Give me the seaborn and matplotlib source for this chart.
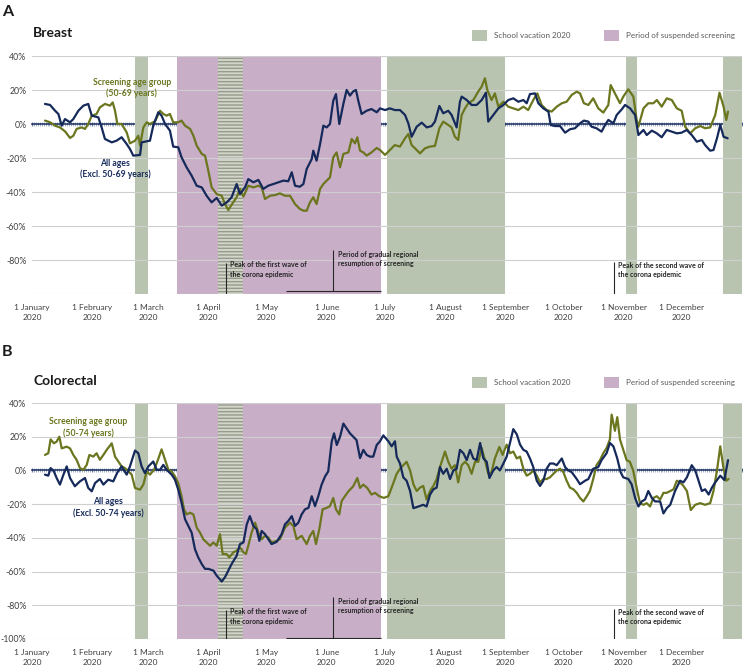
import numpy as np
import pandas as pd
import matplotlib
matplotlib.use("Agg")
import matplotlib.pyplot as plt
import matplotlib.dates as mdates
from matplotlib.patches import Patch
import seaborn as sns

# ---------------- data (day offset from 1 Jan 2020, % change) ----------------
breast_all = [(6.7, 11.8), (9.3, 11.2), (11.9, 7.8), (13.6, 5.9), (15.3, -1), (17, 2.9), (19.6, 1), (21.3, 2.9),
    (23.9, 7.8), (26.5, 10.8), (29, 11.8), (30.8, 4.9), (34.2, 3.9), (35.9, -2), (37.6, -8.8), (41.1, -10.8),
    (43.6, -9.8), (46.2, -7.8), (48.8, -11.8), (50.5, -14.7), (52.2, -18.6), (55.7, -18.2), (56.5, -10.8),
    (59.1, -10.2), (60.8, -9.8), (62.5, -1), (65.1, 6.9), (66.8, 4.9), (68.6, 0), (71.1, -3.9), (72.8, -13.3),
    (75.4, -13.7), (77.1, -19.6), (79.7, -25.5), (82.3, -30.4), (84.9, -36.3), (87.5, -37.3), (90, -42.2),
    (92.6, -46.1), (95.2, -43.5), (97.8, -48), (100.4, -46.1), (102.9, -43.1), (105.5, -35.3), (107.2, -41.2),
    (109.8, -37.3), (111.5, -32.4), (114.1, -34.3), (116.7, -32.9), (119.2, -38.2), (121.8, -36.3),
    (124.4, -35.3), (127, -34.3), (129.6, -33.3), (132.1, -33.7), (133.9, -28.4), (135.6, -36.3),
    (138.1, -36.9), (139.9, -35.3), (141.6, -26.5), (144.2, -20.6), (145, -15.7), (146.7, -21.6),
    (148.5, -11.8), (150.2, -1), (151.9, -2), (153.6, 0), (155.3, 13.7), (156.7, 17.6), (158.4, 0),
    (160.5, 11.8), (162.2, 20), (163.9, 16.7), (165.6, 19.2), (167, 20), (168.2, 13.7), (169.9, 5.9),
    (172.5, 7.8), (175, 8.8), (177.7, 6.9), (179.4, 9.2), (182, 8.2), (184.5, 9.2), (187, 8.2), (189.7, 8.2),
    (192.3, 5.3), (194, 0.4), (195.7, -7.5), (198.3, -1.6), (200.9, 0.8), (203.5, -2), (206, -1.2),
    (207.7, 1.4), (210, 10.6), (212, 6.3), (214.6, 7.8), (216.3, 5.3), (218.9, -2), (220.6, 13.1),
    (221.5, 16.1), (224.1, 14.1), (226.6, 11.2), (229.2, 11.2), (231.8, 14.1), (234, 18.4), (235.2, 1.4),
    (237.8, 5.3), (240.4, 9.2), (243, 11.2), (245.5, 14.1), (248.1, 15.1), (250.7, 13.1), (253.3, 14.1),
    (255, 12.2), (256.7, 17.6), (259.3, 18), (261, 12.2), (263.6, 9.2), (266.2, 7.3), (267.4, -0.6),
    (269.6, -1.2), (272.2, -1.2), (274.8, -5.1), (277.3, -3.1), (279.9, -2.5), (282.5, 0.4), (284.5, 2),
    (286.8, 1.4), (288.5, -1.6), (291, -2.5), (293.6, -4.5), (295.4, -0.6), (297.1, 2.4), (299.7, 0.4),
    (301.4, 5.3), (304, 8.6), (305.7, 11.2), (308.3, 9.2), (310.9, 5.3), (312.6, -6.5), (315.2, -3.5),
    (316.9, -6.5), (319.5, -3.9), (322.1, -5.5), (324.6, -7.8), (327.2, -3.5), (329.8, -4.5), (332.4, -5.5),
    (334.9, -5.1), (337.5, -3.5), (340.1, -6.5), (342.7, -10.4), (345.3, -9.4), (347, -12.4), (349.6, -15.7),
    (351.3, -15.3), (353.1, -8.4), (354.8, -0.6), (356.5, -7.5), (358.6, -8.4)]

breast_screen = [(6.7, 2), (9.3, 1), (11.9, -1), (14.4, -2), (17, -4.3), (19.6, -8.2), (21.3, -6.9), (23, -2.9),
    (25.6, -2), (27.3, -2.9), (29, 0), (30.8, 4.9), (33.3, 5.9), (35, 9.8), (37.6, 11.8), (40.2, 10.8),
    (41.6, 12.7), (42.8, 7.8), (44, 0), (46.2, 0), (48.8, -4.9), (50.5, -11.4), (53.1, -9.8), (54.8, -6.9),
    (55.7, -12.7), (57.4, -2), (59.1, 1), (60.8, 0), (63.4, 1.6), (66, 7.8), (67.7, 5.9), (69.4, 4.9),
    (71.1, 5.9), (72.8, 1), (75.4, 1), (77.1, 2), (78.9, -1), (81.5, -2.9), (83.2, -6.9), (84.9, -12.7),
    (87.5, -17.6), (89.2, -18.6), (90.9, -27.5), (92.6, -37.3), (95.2, -41.2), (97.8, -42.2), (99.5, -47.1),
    (101.2, -50.6), (102.9, -47.5), (105.5, -43.1), (107.2, -38.2), (109, -42.7), (111.5, -36.3),
    (114.1, -37.3), (116.7, -36.3), (118.4, -37.3), (120.1, -44.1), (122.7, -42.2), (125.3, -41.8),
    (127.8, -40.8), (130.4, -42.2), (133, -42.2), (135.6, -47.1), (138.1, -50), (139.9, -51), (141.6, -51),
    (143.3, -46.1), (145, -43.1), (146.7, -47.1), (148.5, -38.2), (150.2, -35.3), (151.9, -33.3),
    (153.6, -31.4), (155.3, -19.6), (157, -16.7), (158.8, -25.5), (160.5, -17.6), (163.1, -16.7),
    (164.8, -8.8), (166.5, -11.4), (167.7, -7.8), (169.1, -15.7), (170.8, -16.7), (172.5, -18.6),
    (175, -16.7), (177.7, -14.1), (179.4, -15.3), (182, -18.2), (184.5, -15.3), (187, -12.4), (189.7, -13.3),
    (192.3, -8.4), (194, -5.9), (195.7, -12.4), (198.3, -15.3), (200, -17.3), (202.6, -14.3), (205.1, -13.3),
    (207.7, -12.9), (210, -2.5), (212, 1.4), (214.6, -0.6), (216.3, -2), (218, -7.5), (219.7, -9.4),
    (221.5, 5.3), (223.2, 9.2), (224.9, 12.2), (227.5, 14.1), (230, 19), (231.8, 22), (233.5, 26.9),
    (234.7, 20), (236.9, 14.1), (238.6, 18), (240.4, 10.2), (243, 13.1), (245.5, 10.2), (248.1, 9.2),
    (250.7, 8.2), (253.3, 10.2), (255.8, 8.2), (258.4, 14.1), (260.5, 18), (262.7, 11.2), (265.3, 8.2),
    (267.9, 7.3), (270.5, 10.2), (273.1, 12.2), (275.6, 13.1), (278.2, 17.1), (280.8, 19), (282.5, 18),
    (284.5, 12.2), (286.8, 11.2), (289.3, 15.1), (291.9, 9.2), (294.5, 6.7), (297.1, 11.2), (298.3, 22.9),
    (300.5, 18), (303.1, 12.2), (304.8, 16.1), (307.4, 20.4), (310, 16.1), (311.7, 2.4), (312.6, -1.6),
    (315.2, 9.2), (317.7, 12.2), (320.3, 12.2), (322.1, 14.1), (324.6, 10.2), (327.2, 15.1), (329.8, 14.1),
    (332.4, 9.2), (334.9, 7.8), (336.7, -1.6), (339.3, -5.5), (341.9, -2.5), (344.5, -1.2), (347, -2.5),
    (349.6, -2), (352.2, 5.3), (354.4, 18.4), (356.5, 10.2), (357.9, 2.4), (358.8, 7.3)]

colo_all = [(6.7, -2.5), (8.4, -3.1), (9.6, 1.4), (11.3, -0.6), (12.7, -4.5), (14.4, -8.4), (16.2, -2.5),
    (17.9, 2.4), (19.6, -4.5), (22.1, -9.4), (24.7, -6.5), (27.3, -4.5), (29, -10.4), (30.8, -12.4),
    (32.5, -7.5), (35, -5.1), (36.8, -8.4), (39.3, -5.5), (41.9, -6.5), (44, -1.2), (46.2, 2.4), (48.8, -2.5),
    (50.5, 2.4), (53.1, 11.8), (54.8, 10.2), (56.5, 2.4), (58.2, -1.6), (60, 2.4), (62.5, 5.3), (64.3, 0.4),
    (66, 0.4), (67.7, 3.3), (69.4, 0.4), (72, -2.5), (73.7, -5.5), (75.4, -11.4), (77.1, -19.2), (78.9, -29),
    (80.6, -32.9), (82.3, -36.9), (84, -46.7), (85.7, -51.6), (87.5, -55.5), (89.2, -58.4), (90.9, -58.4),
    (93.5, -59.4), (95.2, -62.4), (97.8, -65.9), (99.5, -63.3), (101.2, -59.4), (102.9, -55.5),
    (105.5, -50.6), (107.2, -43.7), (109, -42.7), (110.7, -32), (112.3, -27.1), (114.1, -32.9),
    (115.8, -34.9), (117.2, -41.8), (118.4, -35.9), (120.1, -37.8), (121.8, -40.8), (123.5, -43.7),
    (126.1, -42.4), (128.7, -37.8), (130.4, -32), (132.1, -30), (133.9, -27.1), (135.6, -32.9), (137.3, -31),
    (139, -26.1), (140.7, -23.1), (142.5, -22.2), (144.2, -15.3), (145.9, -21.2), (147.6, -15.3),
    (149.3, -8.4), (151.1, -3.5), (152.7, -0.6), (154.5, 17.1), (155.7, 22), (157.1, 15.1), (158.8, 20),
    (160.5, 27.8), (162.2, 24.9), (163.9, 22), (165.6, 20), (167.3, 18), (169.1, 7.3), (170.8, 12.2),
    (172.5, 9.2), (174.2, 8.2), (175.9, 8.2), (177.7, 15.1), (179.4, 17.3), (181.1, 20.8), (183.7, 17.3),
    (185.4, 14.3), (187.1, 17.3), (188, 8.2), (189.7, 4.1), (191.4, -4.1), (193.1, -6.1), (194.9, -12.2),
    (196.6, -22.4), (199.1, -21.4), (201.7, -20.4), (203.4, -21.4), (205.2, -14.3), (206.9, -11.2),
    (208.6, -10.2), (210.3, 2), (212, -2), (213.8, 1), (215.5, -5.1), (217.2, 0), (218.9, 1), (220.6, 12.2),
    (222.4, 10.2), (224.1, 6.1), (225.8, 12.2), (227.5, 7.1), (229.2, 6.1), (231, 16.3), (232.7, 7.1),
    (234.4, 5.1), (235.8, -4.5), (237.8, 0), (239.5, 2), (241.2, 0), (243, 4.1), (244.7, 8.2), (246.4, 16.3),
    (248.1, 24.5), (249.9, 21.4), (251.6, 15.3), (253.3, 12.2), (255, 11.2), (256.7, 7.1), (258.4, 2),
    (260.2, -6.1), (261.9, -9.2), (263.6, -6.1), (265.3, 1), (267, 4.1), (268.8, 4.1), (270.5, 3.1),
    (273.1, 7.1), (274.8, 2), (276.5, 0), (278.2, -1), (280.8, -5.1), (282.5, -8.2), (285.1, -6.1),
    (286.8, -5.1), (289.3, 1), (291.9, 2), (293.6, 6.1), (296.2, 10.2), (297.9, 16.3), (299.7, 14.3),
    (301.7, 7.1), (303.4, -1), (304.8, -4.1), (307.4, -5.1), (309.1, -8.2), (310.9, -16.3), (312.6, -21.4),
    (314.3, -18.4), (316, -17.3), (317.7, -12.2), (319.5, -16.3), (321.2, -18.4), (323.8, -18.4),
    (325.5, -25.5), (327.2, -22.4), (329, -20.4), (331.5, -12.2), (334.1, -6.1), (335.8, -7.1), (337.6, -4.1),
    (340.1, 3.1), (341.9, 0), (343.6, -6.1), (345.3, -12.2), (347, -11.2), (348.8, -14.3), (350.5, -10.2),
    (352.2, -7.1), (354.8, -3.1), (356.9, -5.7), (358.8, 6.1)]

colo_screen = [(6.7, 9.2), (8.4, 10.2), (9.6, 18.4), (11.3, 16.1), (12.7, 17.1), (14.1, 20), (15.3, 13.1),
    (17.9, 14.1), (19.6, 13.1), (21.3, 9.2), (23, 6.3), (24.7, 1.4), (26.5, 0.4), (28.2, 3.3), (29.6, 9.2),
    (31.6, 8.2), (33.3, 10.2), (35, 6.3), (36.8, 9.2), (38.5, 12.2), (41.1, 16.1), (42.8, 8.2), (44.5, 5.3),
    (46.2, 2.4), (47.9, 1.4), (49.7, -0.6), (51.4, -2.5), (53.1, -10.4), (55.7, -11.4), (57.4, -8.4),
    (59.1, -0.6), (60.8, -2.5), (62.9, 0.4), (64.3, 4.3), (66.8, 12.5), (68.6, 6.3), (70.3, 0.4), (72, -0.6),
    (73.7, -3.5), (75.4, -7.5), (77.1, -15.3), (78.4, -23.1), (79.7, -26.1), (81.4, -25.1), (83.2, -26.1),
    (84.9, -33.9), (86.6, -36.9), (88.3, -40.8), (90, -42.7), (91.8, -44.7), (93.5, -42.7), (95.2, -44.7),
    (96.9, -37.8), (98.3, -49.6), (100.3, -49.6), (101.7, -51.6), (103.8, -48.6), (105.5, -47.6),
    (107.2, -45.7), (109, -48.6), (110.3, -49.6), (111.5, -44.7), (113.2, -36.9), (115, -31), (116.7, -36.9),
    (118.4, -40.8), (120.1, -38.8), (121.8, -39.8), (123.5, -42.7), (126.1, -41.8), (127.8, -40.8),
    (130.4, -33.9), (133, -31), (134.7, -32.9), (136.4, -40.8), (139, -38.8), (141.6, -43.7), (143.3, -38.8),
    (145, -35.9), (146.4, -43.7), (148.1, -34.9), (149.8, -23.1), (151.9, -22.2), (153.6, -21.2),
    (155.3, -16.3), (156.7, -23.1), (158.4, -26.1), (159.6, -18.2), (161.3, -15.3), (163.1, -12.4),
    (165.6, -9.4), (167.7, -4.5), (169.1, -10.4), (170.8, -8.4), (172.8, -10.4), (175, -14.3), (176.8, -13.3),
    (179, -15.3), (181.4, -16.3), (183.7, -15.3), (185.4, -10.2), (188, -2), (189.7, 1), (191.4, 3.1),
    (193.1, 5.1), (194.9, 0), (196.6, -8.2), (198.3, -12.2), (200, -10.2), (201.7, -9.2), (203.4, -17.3),
    (205.2, -12.2), (206.9, -9.2), (208.6, -5.1), (210.3, 2), (212.9, 11.2), (214.6, 5.1), (216.3, 1),
    (218, 3.1), (219.7, -7.1), (221.5, 3.1), (223.2, 5.1), (224.9, 3.1), (226.6, -2), (228.4, 5.1),
    (230.1, 5.1), (231.8, 13.3), (233.5, 6.1), (235.2, -2), (236.9, -1), (238.6, 7.1), (240.9, 13.9),
    (242.6, 9.2), (244.7, 15.3), (246.4, 10.2), (248.1, 11.2), (249.9, 7.1), (251.6, 8.2), (253.3, 1),
    (255, -3.1), (256.7, -2), (258.4, 0), (260.2, -3.1), (261.9, -7.1), (263.6, -5.1), (265.3, -5.1),
    (267, -4.1), (268.8, -2), (270.5, 0), (272.2, 1), (273.9, -1), (275.6, -6.1), (277.3, -10.2),
    (279.1, -11.2), (280.8, -13.3), (282.5, -16.3), (284.2, -18.4), (286, -15.3), (287.6, -12.2),
    (289.3, -5.1), (291, 3.1), (292.8, 6.1), (294.5, 10.2), (296.2, 13.3), (297.9, 18.4), (298.8, 33.1),
    (300.5, 23.5), (301.7, 31.6), (303.1, 18.4), (304.8, 12.2), (306.5, 6.1), (308.2, 5.1), (309.9, 0),
    (311.7, -10.2), (313.4, -19.4), (315.2, -20.4), (316.9, -19.4), (318.6, -21.4), (320.3, -16.3),
    (322.1, -15.3), (323.8, -17.3), (325.5, -13.3), (327.2, -13.3), (329, -12.2), (330.7, -11.2),
    (332.4, -6.1), (334.1, -7.1), (335.8, -9.2), (337.6, -12.2), (339.6, -23.5), (341.9, -20.4),
    (344.5, -19.4), (347, -20.4), (349.6, -19.4), (351.3, -12.2), (353.1, 0), (354.8, 14.3), (356.5, 1),
    (357.9, -6.1), (359.1, -5.1)]

school_vacations = [("2020-02-23", "2020-03-01"), ("2020-07-02", "2020-09-01"),
                    ("2020-11-02", "2020-11-08"), ("2020-12-22", "2021-01-01")]
suspended = ("2020-03-16", "2020-06-29")
first_wave = ("2020-04-06", "2020-04-19")
first_peak = "2020-04-10"
second_peak = "2020-10-27"
resume_mark = "2020-06-04"
resume_span = ("2020-05-11", "2020-06-29")

month_names = ["January", "February", "March", "April", "May", "June", "July",
               "August", "September", "October", "November", "December"]

# ---------------- style ----------------
sns.set_theme(style="white")
plt.rcParams["font.family"] = ["Lato", "DejaVu Sans"]
plt.rcParams["hatch.linewidth"] = 1.0

GREEN_LINE = "#6b761f"
NAVY = "#15295a"
VAC = "#b8c4b0"
SUSP = "#c9aec7"
HATCH_BG = "#d2d5ca"
HATCH_FG = "#959a8a"
TXT = "#404040"

BASE = pd.Timestamp("2020-01-01")
month_starts = pd.date_range("2020-01-01", "2020-12-01", freq="MS")


def to_df(pairs, name):
    d = np.array(pairs, dtype=float)
    return pd.DataFrame({"date": BASE + pd.to_timedelta(d[:, 0], unit="D"),
                         "value": d[:, 1], "series": name})


fig = plt.figure(figsize=(7.43, 6.70), dpi=100)
axA = fig.add_axes([32 / 743, 1 - 294 / 670, 710 / 743, 238 / 670])
axB = fig.add_axes([32 / 743, 1 - 639 / 670, 710 / 743, 236 / 670])


def draw_panel(ax, all_pairs, screen_pairs, yticks, age_lbl, lab_screen_pos, lab_all_pos):
    ymin, ymax = -100, 40
    for a, b in school_vacations:
        ax.axvspan(pd.Timestamp(a), pd.Timestamp(b), color=VAC, lw=0, zorder=0.2)
    ax.axvspan(pd.Timestamp(suspended[0]), pd.Timestamp(suspended[1]), color=SUSP, lw=0, zorder=0.2)
    ax.axvspan(pd.Timestamp(first_wave[0]), pd.Timestamp(first_wave[1]), facecolor=HATCH_BG,
               edgecolor=HATCH_FG, hatch="-----", lw=0, zorder=0.3)

    for yv in range(-100, 41, 20):
        if yv != 0:
            ax.axhline(yv, color="#cfcfcf", lw=0.8, zorder=0.5)

    df = pd.concat([to_df(screen_pairs, "screen"), to_df(all_pairs, "all")])
    sns.lineplot(data=df, x="date", y="value", hue="series", estimator=None,
                 palette={"screen": GREEN_LINE, "all": NAVY}, lw=1.6, legend=False, ax=ax, zorder=3)

    ax.set_xlim(BASE, pd.Timestamp("2021-01-01"))
    ax.set_ylim(ymin, ymax)
    ax.set_yticks(yticks)
    ax.set_yticklabels([f"{v}%" for v in yticks])
    ax.tick_params(axis="y", length=0, pad=4, labelsize=6.3, labelcolor=TXT)
    ax.set_xticks(month_starts)
    ax.set_xticklabels([f"1 {m}\n2020" for m in month_names])
    ax.tick_params(axis="x", length=0, pad=7.5, labelsize=6.0, labelcolor=TXT)
    for lab in ax.get_xticklabels():
        lab.set_linespacing(1.45)
    ax.set_xlabel("")
    ax.set_ylabel("")
    for s in ax.spines.values():
        s.set_visible(False)

    # zero axis line with daily minor ticks
    loc = (0 - ymin) / (ymax - ymin)
    sec = ax.secondary_xaxis(loc)
    sec.set_alignment("bottom")
    sec.spines["bottom"].set_color(NAVY)
    sec.spines["bottom"].set_linewidth(1.1)
    sec.xaxis.set_major_locator(mdates.MonthLocator())
    sec.xaxis.set_minor_locator(mdates.DayLocator())
    sec.tick_params(axis="x", which="major", length=3.5, width=0.9, color="#6d7ea6",
                    direction="inout", labelbottom=False, labeltop=False)
    sec.tick_params(axis="x", which="minor", length=3.5, width=0.55, color="#8d9cbf",
                    direction="inout")

    # series labels
    ax.text(BASE + pd.Timedelta(days=lab_screen_pos[0]), lab_screen_pos[1],
            f"Screening age group\n({age_lbl} years)", color=GREEN_LINE, fontsize=6.2,
            fontweight="bold", ha="center", va="center", linespacing=1.3, zorder=5)
    ax.text(BASE + pd.Timedelta(days=lab_all_pos[0]), lab_all_pos[1],
            f"All ages\n(Excl. {age_lbl} years)", color=NAVY, fontsize=6.2,
            fontweight="bold", ha="center", va="center", linespacing=1.3, zorder=5)

    # legend
    handles = [Patch(facecolor=VAC, edgecolor="none"), Patch(facecolor=SUSP, edgecolor="none")]
    leg = ax.legend(handles, ["School vacation 2020", "Period of suspended screening"], ncol=2,
                    loc="center left", bbox_to_anchor=((472 - 32) / 710, 1 + 20.5 / 238),
                    frameon=False, fontsize=5.8, handlelength=1.8, handleheight=1.8,
                    handletextpad=0.9, columnspacing=4.2, borderpad=0, borderaxespad=0)
    for t in leg.get_texts():
        t.set_color("#595959")


draw_panel(axA, breast_all, breast_screen, [40, 20, 0, -20, -40, -60, -80], "50-69",
           (51.5, 21.2), (42.8, -26.5))
draw_panel(axB, colo_all, colo_screen, [40, 20, 0, -20, -40, -60, -80, -100], "50-74",
           (28.9, 25.7), (39.2, -21.9))

# annotations
ann_kw = dict(fontsize=5.0, fontweight="bold", color="#262626", va="top", ha="left",
              linespacing=1.45, zorder=6)
for ax, (fw_top, rs_top, sw_top, rs_base) in [(axA, (-82, -74, -81, -98.2)),
                                               (axB, (-83, -75, -82, -99.2))]:
    fp = pd.Timestamp(first_peak)
    sp = pd.Timestamp(second_peak)
    rm = pd.Timestamp(resume_mark)
    ax.vlines(fp, -100, fw_top, color="#262626", lw=0.8, zorder=6)
    ax.text(fp + pd.Timedelta(days=2), fw_top + 1.3, "Peak of the first wave of\nthe corona epidemic", **ann_kw)
    ax.vlines(rm, rs_base, rs_top, color="#262626", lw=0.8, zorder=6)
    ax.hlines(rs_base, pd.Timestamp(resume_span[0]), pd.Timestamp(resume_span[1]),
              color="#262626", lw=0.8, zorder=6)
    ax.text(rm + pd.Timedelta(days=2.5), rs_top - 0.5,
            "Period of gradual regional\nresumption of screening", **ann_kw)
    ax.vlines(sp, -100, sw_top, color="#262626", lw=0.8, zorder=6)
    ax.text(sp + pd.Timedelta(days=2), sw_top, "Peak of the second wave of\nthe corona epidemic", **ann_kw)

# titles
fig.text(2 / 743, 1 - 12 / 670, "A", fontsize=11.5, fontweight="bold", color="#1a1a1a", va="center", ha="left")
fig.text(33 / 743, 1 - 33 / 670, "Breast", fontsize=10, fontweight="bold", color="#1a1a1a", va="center", ha="left")
fig.text(2 / 743, 1 - 352 / 670, "B", fontsize=11.5, fontweight="bold", color="#1a1a1a", va="center", ha="left")
fig.text(33 / 743, 1 - 381 / 670, "Colorectal", fontsize=10, fontweight="bold", color="#1a1a1a", va="center", ha="left")

fig.savefig("out.png", dpi=100)
